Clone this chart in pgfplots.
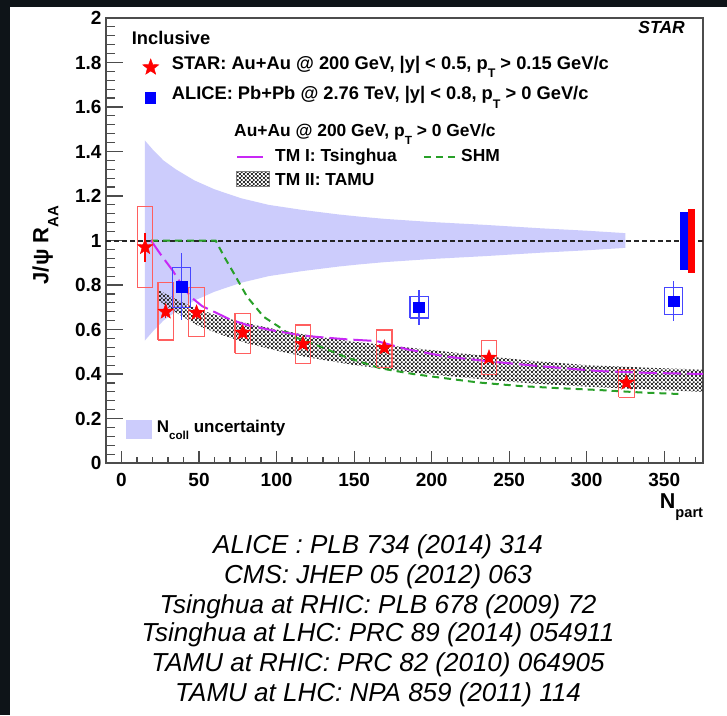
\documentclass[border=0pt]{standalone}
\usepackage{pgfplots}
\pgfplotsset{compat=1.18}
\usetikzlibrary{patterns}
\usepackage{graphicx}
\usepackage{fontspec}
\setmainfont{Liberation Sans}
\definecolor{bgdark}{RGB}{14,20,24}
\definecolor{lav}{RGB}{204,204,252}
\definecolor{boxred}{RGB}{255,95,95}
\definecolor{boxblue}{RGB}{70,70,255}
\definecolor{tmmag}{RGB}{200,40,245}
\definecolor{shmgreen}{RGB}{40,160,40}
\pgfdeclarepatternformonly{finecheck}{\pgfpointorigin}{\pgfqpoint{3.8pt}{3.8pt}}{\pgfqpoint{3.8pt}{3.8pt}}{%
  \pgfpathrectangle{\pgfpointorigin}{\pgfqpoint{1.9pt}{1.9pt}}%
  \pgfpathrectangle{\pgfqpoint{1.9pt}{1.9pt}}{\pgfqpoint{1.9pt}{1.9pt}}%
  \pgfusepath{fill}}
\newcommand\sub[1]{\raisebox{-0.45em}{\scalebox{0.68}{#1}}}
\pgfdeclareplotmark{fstar}{%
 \pgfpathmoveto{\pgfpointpolar{90}{\pgfplotmarksize}}%
 \pgfpathlineto{\pgfpointpolar{126}{0.42*\pgfplotmarksize}}%
 \pgfpathlineto{\pgfpointpolar{162}{\pgfplotmarksize}}%
 \pgfpathlineto{\pgfpointpolar{198}{0.42*\pgfplotmarksize}}%
 \pgfpathlineto{\pgfpointpolar{234}{\pgfplotmarksize}}%
 \pgfpathlineto{\pgfpointpolar{270}{0.42*\pgfplotmarksize}}%
 \pgfpathlineto{\pgfpointpolar{306}{\pgfplotmarksize}}%
 \pgfpathlineto{\pgfpointpolar{342}{0.42*\pgfplotmarksize}}%
 \pgfpathlineto{\pgfpointpolar{18}{\pgfplotmarksize}}%
 \pgfpathlineto{\pgfpointpolar{54}{0.42*\pgfplotmarksize}}%
 \pgfpathclose\pgfusepathqfillstroke}
\newcommand\legfont{\fontsize{18.3}{20}\selectfont\bfseries}
\newcommand\legfontb{\fontsize{17.4}{20}\selectfont\bfseries}
\begin{document}
\begin{tikzpicture}
\fill[bgdark] (-106pt,-252pt) rectangle (621pt,463pt);
\fill[white] (-96pt,-252pt) rectangle (621pt,456pt);
% ---------------- main axis (data, y ticks)
\begin{axis}[at={(0pt,0pt)}, anchor=south west, scale only axis,
  width=597pt, height=445pt,
  xmin=-10, xmax=375, ymin=0, ymax=2,
  xtick=\empty,
  ytick={0,0.2,0.4,0.6,0.8,1,1.2,1.4,1.6,1.8,2},
  minor y tick num=4,
  tick align=inside, tick pos=left,
  major tick length=17pt, minor tick length=9pt,
  axis line style={black!70, line width=1.3pt},
  tick style={black!70, line width=1.2pt},
  yticklabel style={font=\fontsize{19}{19}\selectfont\bfseries, anchor=east, inner sep=0pt, xshift=-4.3pt},
  /pgf/number format/.cd, fixed, precision=1, assume math mode=true]
% Ncoll uncertainty band
\addplot[fill=lav, draw=none] coordinates {
 (15,1.45)(20,1.41)(27,1.36)(35,1.32)(47,1.27)(60,1.23)(77,1.19)(95,1.16)(117,1.137)(140,1.117)(154,1.107)(170,1.097)(200,1.083)(235,1.07)(270,1.055)(300,1.044)(325,1.033)
 (325,0.967)(300,0.956)(270,0.945)(235,0.93)(200,0.917)(170,0.903)(154,0.893)(140,0.883)(117,0.863)(95,0.84)(77,0.81)(60,0.77)(47,0.73)(35,0.68)(27,0.64)(20,0.59)(15,0.55)};
% unity line
\addplot[black!85, line width=2pt, dash pattern=on 4.5pt off 3.5pt] coordinates {(-10,1)(375,1)};
% TM II: TAMU band
\addplot[pattern=finecheck, pattern color=black!82, draw=none] coordinates {
 (23,0.78)(30,0.755)(40,0.72)(50,0.69)(65,0.655)(80,0.63)(100,0.60)(120,0.575)(150,0.545)(190,0.515)(230,0.485)(260,0.462)(300,0.44)(340,0.428)(375,0.42)
 (375,0.32)(340,0.33)(300,0.343)(260,0.36)(230,0.378)(190,0.405)(150,0.44)(120,0.475)(100,0.505)(80,0.54)(65,0.575)(50,0.615)(40,0.655)(30,0.70)(23,0.735)};
% SHM
\addplot[shmgreen, line width=2pt, dash pattern=on 7pt off 5pt] coordinates {
 (19,1.0)(60.7,1.0)(66,0.93)(72.4,0.853)(81,0.747)(91.7,0.657)(102,0.61)(110,0.57)(125,0.532)(145,0.475)(166.7,0.426)(188,0.40)(209.6,0.38)(230,0.362)(256.8,0.346)(280,0.337)(308,0.328)(335,0.317)(360,0.31)};
% TM I: Tsinghua
\addplot[tmmag, line width=2pt, dash pattern=on 18pt off 6pt] coordinates {
 (19,1.0)(26,0.93)(32.8,0.867)(38,0.81)(44.6,0.747)(52,0.705)(61.7,0.673)(70,0.645)(81,0.62)(98,0.595)(115,0.575)(124,0.568)(145,0.556)(164.6,0.548)(184,0.511)(209.6,0.478)(239.6,0.455)(270,0.435)(308,0.413)(340,0.405)(375,0.40)};
% global uncertainties
\addplot[fill=blue, draw=none] coordinates {(360,0.867)(365.4,0.867)(365.4,1.127)(360,1.127)};
\addplot[fill=red, draw=none] coordinates {(365.4,0.855)(370,0.855)(370,1.14)(365.4,1.14)};
% STAR systematic boxes
\addplot[boxred, line width=1.2pt, line join=miter] coordinates {(10.2,0.788)(20.2,0.788)(20.2,1.152)(10.2,1.152)(10.2,0.788)};
\addplot[boxred, line width=1.2pt, line join=miter] coordinates {(23.5,0.553)(33.5,0.553)(33.5,0.81)(23.5,0.81)(23.5,0.553)};
\addplot[boxred, line width=1.2pt, line join=miter] coordinates {(43.4,0.568)(53.4,0.568)(53.4,0.788)(43.4,0.788)(43.4,0.568)};
\addplot[boxred, line width=1.2pt, line join=miter] coordinates {(73.2,0.493)(83.2,0.493)(83.2,0.673)(73.2,0.673)(73.2,0.493)};
\addplot[boxred, line width=1.2pt, line join=miter] coordinates {(112,0.448)(122,0.448)(122,0.62)(112,0.62)(112,0.448)};
\addplot[boxred, line width=1.2pt, line join=miter] coordinates {(164.5,0.43)(174.5,0.43)(174.5,0.598)(164.5,0.598)(164.5,0.43)};
\addplot[boxred, line width=1.2pt, line join=miter] coordinates {(232,0.399)(242,0.399)(242,0.55)(232,0.55)(232,0.399)};
\addplot[boxred, line width=1.2pt, line join=miter] coordinates {(320.6,0.295)(330.6,0.295)(330.6,0.421)(320.6,0.421)(320.6,0.295)};
% ALICE systematic boxes
\addplot[boxblue, line width=1.2pt, line join=miter] coordinates {(32.8,0.70)(44.6,0.70)(44.6,0.88)(32.8,0.88)(32.8,0.70)};
\addplot[boxblue, line width=1.2pt, line join=miter] coordinates {(186,0.652)(197.8,0.652)(197.8,0.747)(186,0.747)(186,0.652)};
\addplot[boxblue, line width=1.2pt, line join=miter] coordinates {(350,0.668)(362,0.668)(362,0.79)(350,0.79)(350,0.668)};
% ALICE points
\addplot[blue, only marks, mark=square*, mark size=5.3pt,
  error bars/.cd, y dir=both, y explicit, error mark=none,
  error bar style={boxblue, line width=1.2pt}] coordinates {
 (38.8,0.792) +- (0,0.15)
 (191.8,0.70) +- (0,0.079)
 (356,0.728) +- (0,0.09)};
% STAR points
\addplot[red, only marks, mark=fstar, mark size=8pt,
  error bars/.cd, y dir=both, y explicit, error mark=none,
  error bar style={red, line width=1.2pt}] coordinates {
 (15.2,0.97) +- (0,0.065)
 (28.5,0.68) +- (0,0.03)
 (48.4,0.675) +- (0,0.03)
 (78.2,0.586) +- (0,0.025)
 (117,0.535) +- (0,0.02)
 (169.5,0.518) +- (0,0.02)
 (237,0.473) +- (0,0.02)
 (325.6,0.361) +- (0,0.02)};
% legend symbols
\addplot[red, only marks, mark=fstar, mark size=8.5pt] coordinates {(18.84,1.778)};
\addplot[blue, only marks, mark=square*, mark size=5.3pt] coordinates {(18.4,1.642)};
\addplot[tmmag, line width=2pt] coordinates {(74.6,1.377)(91.3,1.377)};
\addplot[shmgreen, line width=2pt, dash pattern=on 7pt off 5pt] coordinates {(195,1.377)(215.6,1.377)};
\addplot[pattern=finecheck, pattern color=black!82, draw=gray, line width=0.8pt] coordinates {(74.1,1.242)(95.6,1.242)(95.6,1.309)(74.1,1.309)(74.1,1.242)};
\addplot[fill=lav, draw=none] coordinates {(2.77,0.108)(19.9,0.108)(19.9,0.193)(2.77,0.193)};
\end{axis}
% ---------------- second axis (x ticks)
\begin{axis}[at={(0pt,0pt)}, anchor=south west, scale only axis,
  width=597pt, height=445pt,
  xmin=-10, xmax=375, ymin=0, ymax=2,
  ytick=\empty,
  xtick={0,50,100,150,200,250,300,350},
  minor xtick={-10,10,20,30,40,60,70,80,90,110,120,130,140,160,170,180,190,210,220,230,240,260,270,280,290,310,320,330,340,360,370},
  tick align=inside, tick pos=left,
  major tick length=12pt, minor tick length=6pt,
  axis line style={draw=none},
  tick style={black!70, line width=1.2pt},
  xticklabel style={font=\fontsize{19}{19}\selectfont\bfseries, anchor=north, inner sep=0pt, yshift=-10pt},
  /pgf/number format/assume math mode=true]
\addplot[draw=none] coordinates {(0,0)};
\end{axis}
% ---------------- texts
\node[anchor=base west, inner sep=0pt, font=\legfont] at (25.7pt,418pt) {Inclusive};
\node[anchor=base west, inner sep=0pt, font=\legfont] at (65.7pt,393.7pt) {STAR: Au+Au @ 200 GeV, |y| < 0.5, p\sub{T} > 0.15 GeV/c};
\node[anchor=base west, inner sep=0pt, font=\legfont] at (65.7pt,363pt) {ALICE: Pb+Pb @ 2.76 TeV, |y| < 0.8, p\sub{T} > 0 GeV/c};
\node[anchor=base west, inner sep=0pt, font=\legfontb] at (128pt,326.3pt) {Au+Au @ 200 GeV, p\sub{T} > 0 GeV/c};
\node[anchor=base west, inner sep=0pt, font=\legfontb] at (169pt,301.3pt) {TM I: Tsinghua};
\node[anchor=base west, inner sep=0pt, font=\legfontb] at (355pt,301.3pt) {SHM};
\node[anchor=base west, inner sep=0pt, font=\legfontb] at (169pt,277.3pt) {TM II: TAMU};
\node[anchor=base east, inner sep=0pt, font=\fontsize{17.5}{20}\selectfont\bfseries\itshape] at (579pt,429.7pt) {STAR};
\node[anchor=base west, inner sep=0pt, font=\fontsize{17}{20}\selectfont\bfseries] at (50.7pt,30.7pt) {N\sub{coll} uncertainty};
\node[anchor=base, inner sep=0pt, rotate=90, font=\fontsize{22}{24}\selectfont\bfseries] at (-57.5pt,218pt) {J/ψ R\sub{AA}};
\node[anchor=base east, inner sep=0pt, font=\fontsize{21.5}{24}\selectfont\bfseries] at (597.3pt,-45pt) {N\sub{part}};
\begin{scope}[every node/.style={anchor=base, inner sep=0pt, font=\fontsize{26}{28}\selectfont\itshape}]
\node at (272pt,-90.3pt) {ALICE : PLB 734 (2014) 314};
\node at (272pt,-120pt) {CMS: JHEP 05 (2012) 063};
\node at (272pt,-150pt) {Tsinghua at RHIC: PLB 678 (2009) 72};
\node at (272pt,-178.7pt) {Tsinghua at LHC: PRC 89 (2014) 054911};
\node at (272pt,-208.7pt) {TAMU at RHIC: PRC 82 (2010) 064905};
\node at (272pt,-238.7pt) {TAMU at LHC: NPA 859 (2011) 114};
\end{scope}
\pgfresetboundingbox
\path[use as bounding box] (-106pt,-252pt) rectangle (621pt,463pt);
\end{tikzpicture}
\end{document}
